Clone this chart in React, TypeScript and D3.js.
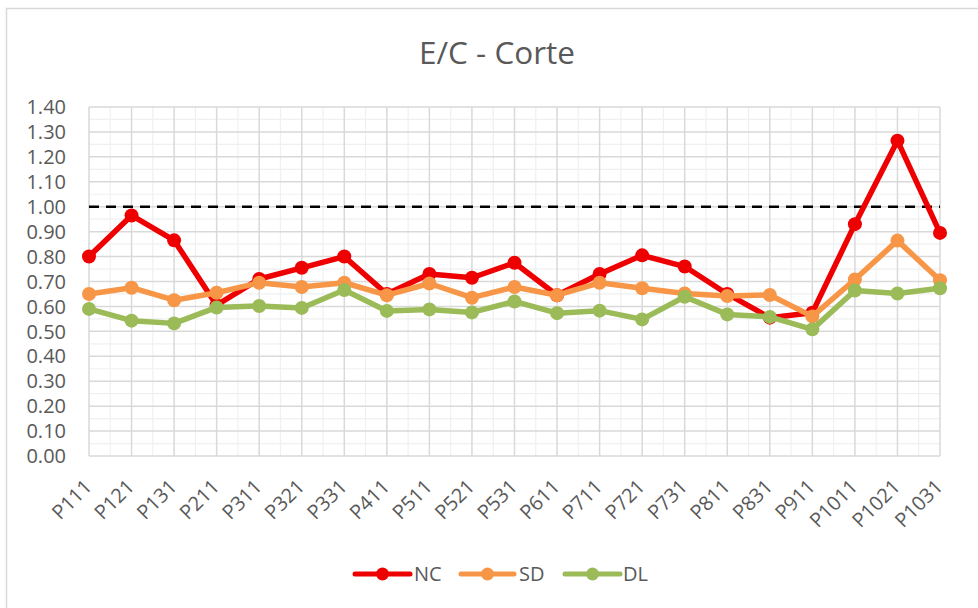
import React from "react";
import * as d3 from "d3";

const categories = ["P111","P121","P131","P211","P311","P321","P331","P411","P511","P521","P531","P611","P711","P721","P731","P811","P831","P911","P1011","P1021","P1031"];
const ncValues = [0.80, 0.965, 0.865, 0.605, 0.71, 0.755, 0.80, 0.65, 0.73, 0.715, 0.775, 0.645, 0.73, 0.805, 0.76, 0.65, 0.555, 0.575, 0.93, 1.265, 0.895];
const sdValues = [0.65, 0.675, 0.625, 0.655, 0.695, 0.678, 0.695, 0.645, 0.692, 0.635, 0.678, 0.645, 0.695, 0.673, 0.652, 0.642, 0.646, 0.56, 0.708, 0.864, 0.705];
const dlValues = [0.59, 0.543, 0.532, 0.596, 0.602, 0.594, 0.666, 0.582, 0.588, 0.576, 0.62, 0.573, 0.583, 0.548, 0.639, 0.568, 0.558, 0.508, 0.664, 0.652, 0.673];
const seriesNames = ["NC", "SD", "DL"];
const seriesColors = ["#EE0000", "#F79646", "#9BBB59"];
const yTicks = [0, 0.1, 0.2, 0.3, 0.4, 0.5, 0.6, 0.7, 0.8, 0.9, 1.0, 1.1, 1.2, 1.3, 1.4];
const refValue = 1.0;
const title = "E/C - Corte";

const W = 978, H = 608;
const FONT = "'Open Sans', sans-serif";

export default function App() {
  const x = d3.scalePoint<string>().domain(categories).range([89, 940]);
  const y = d3.scaleLinear().domain([0, 1.4]).range([456, 107]);
  const step = x.step();
  const all = [ncValues, sdValues, dlValues];
  const line = d3.line<number>().x((_, i) => x(categories[i]) as number).y((d) => y(d));

  const minorY = d3.range(0.05, 1.4, 0.1);
  const minorX = categories.slice(0, -1).map((c) => (x(c) as number) + step / 2);

  const legendItems = [
    { x0: 355, x1: 410, tx: 414 },
    { x0: 461, x1: 514, tx: 519 },
    { x0: 565, x1: 620, tx: 623 },
  ];

  return (
    <svg width={W} height={H} style={{ position: "absolute", left: 0, top: 0 }} fontFamily={FONT}>
      <rect x={0} y={0} width={W} height={H} fill="#fff" />
      <rect x={6.5} y={8.5} width={990} height={620} fill="#fff" stroke="#D9D9D9" strokeWidth={1.5} />
      <text x={497} y={64} textAnchor="middle" fontSize={31.5} fill="#595959">{title}</text>

      {/* minor grid */}
      {minorY.map((v, i) => (
        <line key={"my" + i} x1={89} x2={940} y1={y(v)} y2={y(v)} stroke="#F0F0F0" strokeWidth={1.2} />
      ))}
      {minorX.map((v, i) => (
        <line key={"mx" + i} x1={v} x2={v} y1={y(1.4)} y2={y(0)} stroke="#F0F0F0" strokeWidth={1.2} />
      ))}
      {/* major grid */}
      {yTicks.map((v, i) => (
        <line key={"gy" + i} x1={89} x2={940} y1={y(v)} y2={y(v)} stroke="#D9D9D9" strokeWidth={1.5} />
      ))}
      {categories.map((c, i) => (
        <line key={"gx" + i} x1={x(c)} x2={x(c)} y1={y(1.4)} y2={y(0)} stroke="#D9D9D9" strokeWidth={1.5} />
      ))}

      {/* y tick labels */}
      {yTicks.map((v, i) => (
        <text key={"yl" + i} x={66} y={y(v)} dy="0.36em" textAnchor="end" fontSize={20} fill="#595959">
          {v.toFixed(2)}
        </text>
      ))}
      {/* x tick labels */}
      {categories.map((c, i) => (
        <text key={"xl" + i} transform={`translate(${(x(c) as number) + 4},488) rotate(-45)`} textAnchor="end" fontSize={20} fill="#595959">
          {c}
        </text>
      ))}

      {/* reference line */}
      <line x1={89} x2={940} y1={y(refValue)} y2={y(refValue)} stroke="#000" strokeWidth={2.5} strokeDasharray="10,7" />

      {/* series */}
      {all.map((vals, s) => (
        <g key={"s" + s}>
          <path d={line(vals) || ""} fill="none" stroke={seriesColors[s]} strokeWidth={5.5} strokeLinejoin="round" strokeLinecap="round" />
          {vals.map((v, i) => (
            <circle key={i} cx={x(categories[i])} cy={y(v)} r={7} fill={seriesColors[s]} />
          ))}
        </g>
      ))}

      {/* legend */}
      {seriesNames.map((n, s) => {
        const it = legendItems[s];
        return (
          <g key={"lg" + s}>
            <line x1={it.x0} x2={it.x1} y1={574} y2={574} stroke={seriesColors[s]} strokeWidth={5} strokeLinecap="round" />
            <circle cx={(it.x0 + it.x1) / 2} cy={574} r={6.5} fill={seriesColors[s]} />
            <text x={it.tx} y={574} dy="0.36em" fontSize={20} fill="#595959">{n}</text>
          </g>
        );
      })}
    </svg>
  );
}
